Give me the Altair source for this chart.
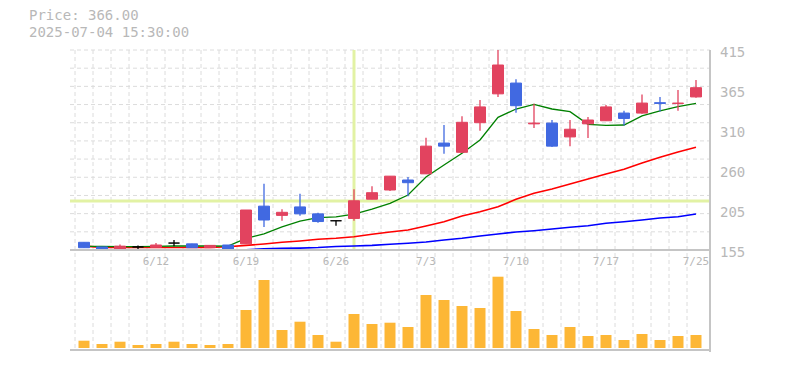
import altair as alt
import pandas as pd

# ---------------- data ----------------
dates = ["6/6", "6/9", "6/10", "6/11", "6/12", "6/13", "6/16", "6/17", "6/18", "6/19",
         "6/20", "6/23", "6/24", "6/25", "6/26", "6/27", "6/30", "7/1", "7/2", "7/3",
         "7/4", "7/7", "7/8", "7/9", "7/10", "7/11", "7/14", "7/15", "7/16", "7/17",
         "7/18", "7/22", "7/23", "7/24", "7/25"]
label_dates = ["6/12", "6/19", "6/26", "7/3", "7/10", "7/17", "7/25"]

opens = [165, 159, 156, 159, 158.5, 164, 163, 158, 161.5, 163,
         212, 200, 211, 202, 193, 196, 221, 233, 246, 254,
         294, 282, 320.5, 358, 372, 319, 320, 302, 319, 323,
         333, 333, 346.5, 345.5, 354]
closes = [158, 155.5, 160, 159, 161.5, 164, 158, 161, 156, 207,
          194, 204, 202, 192, 193, 219, 229.5, 251, 242.5, 290,
          290, 321, 341, 395.5, 342.6, 320, 290, 312, 324, 341,
          326, 346, 345.5, 346, 366]
highs = [165, 159, 162, 161, 164, 168, 163, 161, 161.5, 207,
         241, 208, 228, 203.5, 193, 234, 238, 251, 250, 301,
         317.5, 329, 350, 415, 377, 345, 324, 324, 328, 343.5,
         336, 357, 354, 363, 376]
lows = [158, 155, 155, 156, 158.5, 160, 158, 158, 155, 163,
        185, 193, 199.5, 190.5, 186.5, 193, 221, 231.7, 225, 254,
        280, 282, 310, 354, 333.5, 313.5, 289, 290, 300.6, 323,
        317, 332, 335, 336, 353]
volumes = [73, 40, 63, 30, 40, 63, 40, 30, 40, 380,
           680, 180, 263, 130, 63, 340, 240, 253, 210, 530,
           480, 420, 400, 713, 370, 190, 130, 210, 120, 130,
           80, 140, 80, 120, 130]
ma_short = [159.8, 159.6, 159.5, 159.5, 159.6, 160.2, 160.2, 160.4, 160.0, 170.0,
            176.0, 185.0, 192.5, 197.0, 198.0, 201.5, 208.0, 215.7, 226.5, 250.0,
            265.5, 280.7, 298.0, 327.5, 338.3, 344.4, 338.3, 334.8, 318.4, 317.0,
            317.5, 329.4, 336.0, 341.3, 345.7]
ma_mid = [160.0, 158.4, 158.3, 158.3, 158.3, 158.3, 158.4, 158.4, 159.3, 161.0,
          162.8, 165.0, 166.7, 168.9, 170.2, 172.3, 175.4, 178.4, 181.0, 186.2,
          191.8, 199.2, 204.8, 211.3, 220.9, 228.7, 234.3, 240.8, 247.3, 253.8,
          260.0, 268.0, 275.5, 282.5, 288.5]
ma_long = [None, None, None, None, None, None, None, None, None, 155.2,
           156.5, 157.2, 157.5, 158.2, 159.6, 160.2, 161.0, 162.5, 163.7, 165.4,
           168.0, 170.2, 173.2, 175.8, 178.4, 180.1, 182.3, 184.5, 186.6, 189.7,
           191.8, 194.0, 196.6, 198.3, 201.8]
price_ticks = [415, 363, 311, 259, 207, 155]
price_tick_labels = ["415", "365", "310", "260", "205", "155"]
cross_index = 15
cross_price = 218.7
title_lines = ["Price: 366.00", "2025-07-04 15:30:00"]

# ---------------- frames ----------------
n = len(dates)
df = pd.DataFrame({"i": list(range(n)), "date": dates, "o": opens, "c": closes,
                   "h": highs, "l": lows, "v": volumes,
                   "m1": ma_short, "m2": ma_mid, "m3": ma_long})
df["dir"] = ["up" if c > o else ("down" if c < o else "flat") for o, c in zip(opens, closes)]
labels_df = pd.DataFrame({"i": [dates.index(d) for d in label_dates], "t": label_dates})
ylab_df = pd.DataFrame({"p": price_ticks, "t": price_tick_labels})
hgrid_df = pd.DataFrame({"p": [155 + k * 260 / 11 for k in range(1, 12)]})
vgrid_df = pd.DataFrame({"b": [k - 0.5 for k in range(n)]})
cross_df = pd.DataFrame({"i": [cross_index], "p": [cross_price], "top": [415], "bot": [155]})

W, H = 640, 300
FONT = "DejaVu Sans Mono"
GRID = "#dcdcdc"
AXC = "#c4c4c4"
TXT = "#b8b8b8"

xs = alt.Scale(domain=[-0.5, n - 0.5], nice=False, zero=False)
ys = alt.Scale(domain=[25, 415], nice=False, zero=False)

def X(f):
    return alt.X(f, type="quantitative", scale=xs, axis=None)

def Y(f):
    return alt.Y(f, type="quantitative", scale=ys, axis=None)

hgrid = alt.Chart(hgrid_df).mark_rule(color=GRID, strokeDash=[4, 3], strokeWidth=1).encode(
    y=Y("p"), x=alt.value(0), x2=alt.value(W))

vgrid = alt.Chart(vgrid_df).mark_rule(color=GRID, strokeDash=[4, 3], strokeWidth=1).encode(
    x=X("b"), y=alt.value(0), y2=alt.value(H - 2))

cross_v = alt.Chart(cross_df).mark_rule(color="#e2f2a4", strokeWidth=3).encode(
    x=X("i"), y=Y("top"), y2="bot:Q")
cross_h = alt.Chart(cross_df).mark_rule(color="#e2f2a4", strokeWidth=3).encode(
    y=Y("p"), x=alt.value(0), x2=alt.value(W))

line_m3 = alt.Chart(df).mark_line(color="#0000ff", strokeWidth=1.6).encode(x=X("i"), y=Y("m3"))
line_m2 = alt.Chart(df).mark_line(color="#ff0000", strokeWidth=1.6).encode(x=X("i"), y=Y("m2"))
line_m1 = alt.Chart(df).mark_line(color="#008000", strokeWidth=1.3).encode(x=X("i"), y=Y("m1"))

cscale = alt.Scale(domain=["up", "down", "flat"], range=["#e2435f", "#4169e1", "#000000"])
wicks = alt.Chart(df).mark_rule(strokeWidth=1.3).encode(
    x=X("i"), y=Y("l"), y2="h:Q", color=alt.Color("dir:N", scale=cscale, legend=None))
bodies = alt.Chart(df).mark_bar(size=11, strokeWidth=1).encode(
    x=X("i"), y=Y("o"), y2="c:Q",
    color=alt.Color("dir:N", scale=cscale, legend=None),
    stroke=alt.Color("dir:N", scale=cscale, legend=None))

base_line = alt.Chart(hgrid_df).mark_rule(color=AXC, strokeWidth=1.5).encode(
    x=alt.value(0), x2=alt.value(W), y=alt.value(200))
bottom_line = alt.Chart(hgrid_df).mark_rule(color=AXC, strokeWidth=1.5).encode(
    x=alt.value(0), x2=alt.value(W), y=alt.value(H))
right_line = alt.Chart(hgrid_df).mark_rule(color=AXC, strokeWidth=1.5).encode(
    x=alt.value(W), y=alt.value(0), y2=alt.value(H + 2))

ylabels = alt.Chart(ylab_df).mark_text(font=FONT, fontSize=14, color=TXT, align="left",
                                       baseline="middle", dy=3).encode(
    x=alt.value(W + 10), y=Y("p"), text="t:N")

xlabels = alt.Chart(labels_df).mark_text(font=FONT, fontSize=11, color=TXT,
                                         baseline="middle", align="center").encode(
    x=X("i"), y=alt.value(212), text="t:N")

title1 = alt.Chart(pd.DataFrame({"t": [title_lines[0]]})).mark_text(
    font=FONT, fontSize=14, color=TXT, align="left", baseline="middle").encode(
    x=alt.value(-41), y=alt.value(-34), text="t:N")
title2 = alt.Chart(pd.DataFrame({"t": [title_lines[1]]})).mark_text(
    font=FONT, fontSize=14, color=TXT, align="left", baseline="middle").encode(
    x=alt.value(-41), y=alt.value(-17), text="t:N")

vol = alt.Chart(df).mark_bar(size=11, color="#fdb736").encode(
    x=X("i"),
    y=alt.Y("v:Q", scale=alt.Scale(domain=[-20, 2980], nice=False, zero=False), axis=None),
    y2=alt.datum(0))

price = alt.layer(hgrid, vgrid, cross_v, cross_h, line_m3, line_m2, line_m1, wicks, bodies,
                  base_line, bottom_line, right_line, ylabels, xlabels, title1, title2)

chart = alt.layer(price, vol).resolve_scale(y="independent").properties(
    width=W, height=H,
    autosize=alt.AutoSizeParams(type="none"),
    padding={"left": 62, "top": 42, "right": 60, "bottom": 8},
    background="white",
).configure_view(strokeWidth=0)

chart.save("out.html", embed_options={"renderer": "svg", "actions": False})
